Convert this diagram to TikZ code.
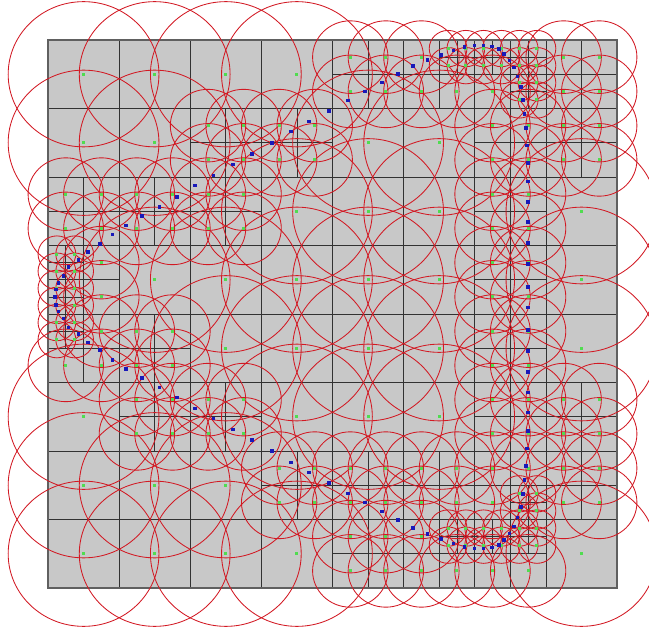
\documentclass[tikz,border=0pt]{standalone}
\usepackage{xcolor}
\usepackage{tikz}
\definecolor{cellgray}{RGB}{200,200,200}
\definecolor{gridgray}{RGB}{50,50,50}
\definecolor{ringred}{RGB}{210,25,35}
\definecolor{seedgreen}{RGB}{80,220,80}
\definecolor{probeblue}{RGB}{25,25,185}
\pgfdeclarelayer{bg}
\pgfdeclarelayer{fg}
\pgfsetlayers{bg,main,fg}

\def\splitlist{4/0,5/0,6/0,7/0,2/1,3/1,6/1,7/1,0/2,1/2,2/2,6/2,0/3,6/3,0/4,1/4,6/4,1/5,2/5,6/5,7/5,3/6,4/6,5/6,6/6,7/6,4/7,5/7,6/7}
\def\finelist{0/6,0/7,0/8,11/0,12/0,13/0,13/1,11/14,12/14,13/14,13/13}
\foreach \c/\r in \splitlist {\expandafter\gdef\csname sp-\c-\r\endcsname{}}
\foreach \c/\r in \finelist {\expandafter\gdef\csname fn-\c-\r\endcsname{}}

\newcommand{\qcell}[3]{%
  \begin{pgfonlayer}{bg}
    \draw[cellline] (#1,#2) rectangle ++(#3,#3);
  \end{pgfonlayer}
  \draw[ring] ({#1+#3/2},{#2+#3/2}) circle[radius=1.06*#3];
  \begin{pgfonlayer}{fg}
    \fill[seed] ({#1+#3/2},{#2+#3/2}) +(-1.5pt,-1.5pt) rectangle +(1.5pt,1.5pt);
  \end{pgfonlayer}}

\begin{document}
\begin{tikzpicture}[
  x=71.125pt, y=-68.5pt,
  cellline/.style={draw=gridgray, line width=0.75pt},
  ring/.style={draw=ringred, line width=0.85pt},
  seed/.style={fill=seedgreen},
  probe/.style={fill=probeblue}]
  \useasboundingbox (-0.6749,-0.5839) rectangle (8.4499,8.6277);
  \begin{pgfonlayer}{bg}
    \fill[cellgray] (0,0) rectangle (8,8);
  \end{pgfonlayer}
  \foreach \c in {0,...,7}{
    \foreach \r in {0,...,7}{
      \ifcsname sp-\c-\r\endcsname
        \foreach \dx in {0,1}{
          \foreach \dy in {0,1}{
            \pgfmathtruncatemacro\ci{2*\c+\dx}
            \pgfmathtruncatemacro\cj{2*\r+\dy}
            \ifcsname fn-\ci-\cj\endcsname
              \foreach \ex in {0,1}{
                \foreach \ey in {0,1}{
                  \qcell{\c+\dx/2+\ex/4}{\r+\dy/2+\ey/4}{0.25}}}
            \else
              \qcell{\c+\dx/2}{\r+\dy/2}{0.5}
            \fi}}
      \else
        \qcell{\c}{\r}{1}
      \fi}}
  \begin{pgfonlayer}{bg}
    \draw[line width=1.6pt, gray!75!black] (0,0) rectangle (8,8);
  \end{pgfonlayer}
  \begin{pgfonlayer}{fg}
    \begin{scope}[x=1pt, y=-1pt, shift={(-48,-40)}]
      \foreach \px/\py in {527.7/286.7, 527.7/264, 527.7/243, 527.7/222,
          527.7/201.7, 527.7/181.7, 527.7/163, 526.7/145.7, 525.7/128.3,
          524.3/114.3, 522.7/100, 520.7/87.3, 517.3/76.7, 514/67.7,
          509.3/60.7, 504/54, 499/49.3, 491.7/46.7, 483.3/45.7, 474.3/45.7,
          464.3/47.3, 453.3/50.7, 441/55, 427.3/60, 412.7/66.3, 397.7/74,
          382/82.7, 365/91.7, 347.7/100.7, 329/111, 309/121.7, 291/131.7,
          271.7/143.3, 252/154, 232.7/164.7, 213.3/175.7, 195/185.7,
          176.7/196.7, 159.3/206.7, 141.7/216, 126/225.3, 112.3/234.3,
          100/244, 87.7/251.7, 78.3/260, 68.3/266.7, 63.3/275.7, 58.3/282.7,
          55.7/289.3, 55/296.7}{
        \fill[probe] (\px,\py) +(-1.8,-1.8) rectangle +(1.8,1.8);
        \fill[probe] (\px,594-\py) +(-1.8,-1.8) rectangle +(1.8,1.8);
      }
    \end{scope}
  \end{pgfonlayer}
\end{tikzpicture}
\end{document}
